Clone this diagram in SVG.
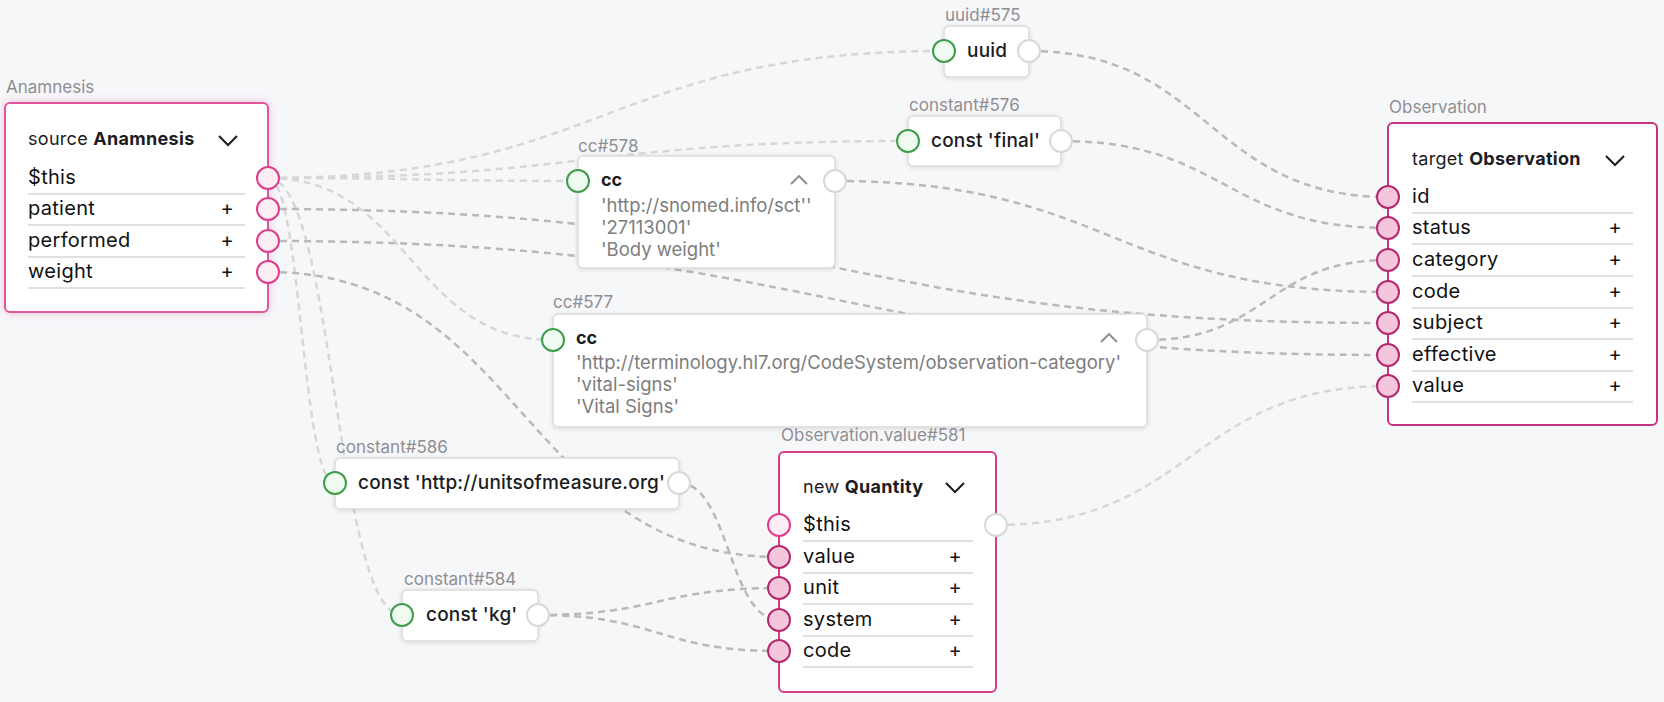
<svg xmlns="http://www.w3.org/2000/svg" width="1664" height="702" viewBox="0 0 1664 702">
<defs>
<style>
.bg{fill:#f6f7f9}
.lbl{font-family:Inter,"Liberation Sans",sans-serif;font-size:17px;fill:#8e8e93}
.hdr{font-family:Inter,"Liberation Sans",sans-serif;font-size:18px;letter-spacing:0.3px;fill:#1c1c1e}
.b{font-weight:700}
.row{font-family:Inter,"Liberation Sans",sans-serif;font-size:20px;letter-spacing:0.3px;fill:#111}
.plus{font-family:Inter,"Liberation Sans",sans-serif;font-size:20px;fill:#111;text-anchor:middle}
.sep{stroke:#d6d6d6;stroke-width:1.5}
.cst{font-family:Inter,"Liberation Sans",sans-serif;font-size:19px;letter-spacing:0.2px;font-weight:500;fill:#1c1c1e}
.cct{font-family:Inter,"Liberation Sans",sans-serif;font-size:18px;font-weight:700;fill:#1c1c1e}
.ccv{font-family:Inter,"Liberation Sans",sans-serif;font-size:18.5px;fill:#7d7d7d}
.box{fill:#fff;stroke:#dcdcdc;stroke-width:1.5}
.pbox{fill:#fff;stroke-width:2}
.pin{fill:#effaf0;stroke:#3f9c49;stroke-width:2}
.pout{fill:#fff;stroke:#d8d8d8;stroke-width:2}
.pk{fill:#f4c6dc;stroke:#b5276f;stroke-width:2}
.pkl{fill:#fcedf5;stroke:#dd3d8c;stroke-width:2}
.chev{fill:none;stroke:#1c1c1e;stroke-width:2}
.chevu{fill:none;stroke:#8a8a8a;stroke-width:1.8}
.e{fill:none;stroke-width:2.5;stroke-dasharray:7 5}
.lt{stroke:#d7d7d7}
.dk{stroke:#b9b9b9}
</style>
<filter id="sh" x="-10%" y="-20%" width="120%" height="150%">
<feDropShadow dx="0" dy="1" stdDeviation="2" flood-color="#000" flood-opacity="0.12"/>
</filter>
<filter id="glow" x="-10%" y="-10%" width="120%" height="120%">
<feDropShadow dx="0" dy="0" stdDeviation="4" flood-color="#e0529a" flood-opacity="0.35"/>
</filter>
</defs>
<rect class="bg" x="0" y="0" width="1664" height="702"/>

<g id="connectors">
<path class="e lt" d="M268,178 C606,178 606,51 944,51"/>
<path class="e lt" d="M268,178 C588,178 588,141 908,141"/>
<path class="e lt" d="M268,178 C423,178 423,181 578,181"/>
<path class="e lt" d="M268,178 C410.5,178 410.5,340 553,340"/>
<path class="e lt" d="M268,178 C301.5,178 301.5,483 335,483"/>
<path class="e lt" d="M268,178 C335,178 335,615 402,615"/>
<path class="e lt" d="M996,525 C1192,525 1192,386 1388,386"/>
<path class="e dk" d="M268,209 C828,209 828,323 1388,323"/>
<path class="e dk" d="M268,241 C828,241 828,355 1388,355"/>
<path class="e dk" d="M268,272 C523.5,272 523.5,557 779,557"/>
<path class="e dk" d="M1029,51 C1208.5,51 1208.5,197 1388,197"/>
<path class="e dk" d="M1061,141 C1224.5,141 1224.5,228 1388,228"/>
<path class="e dk" d="M835,181 C1111.5,181 1111.5,292 1388,292"/>
<path class="e dk" d="M1147,340 C1267.5,340 1267.5,260 1388,260"/>
<path class="e dk" d="M679,483 C729,483 729,620 779,620"/>
<path class="e dk" d="M538,615 C658.5,615 658.5,588 779,588"/>
<path class="e dk" d="M538,615 C658.5,615 658.5,651 779,651"/>
</g>

<g id="anamnesis">
<text class="lbl" x="6" y="93">Anamnesis</text>
<rect class="pbox" x="5" y="103" width="263" height="209" rx="5" stroke="#e0579c" filter="url(#glow)"/>
<text class="hdr" x="28" y="145">source <tspan class="b">Anamnesis</tspan></text>
<path class="chev" d="M219,136 L228,145 L237,136"/>
<text class="row" x="28" y="184">$this</text>
<line class="sep" x1="28" y1="194" x2="245" y2="194"/>
<text class="row" x="28" y="215">patient</text>
<text class="plus" x="227" y="215">+</text>
<line class="sep" x1="28" y1="225" x2="245" y2="225"/>
<text class="row" x="28" y="247">performed</text>
<text class="plus" x="227" y="247">+</text>
<line class="sep" x1="28" y1="257" x2="245" y2="257"/>
<text class="row" x="28" y="278">weight</text>
<text class="plus" x="227" y="278">+</text>
<line class="sep" x1="28" y1="288" x2="245" y2="288"/>
<circle class="pkl" cx="268" cy="178" r="11"/>
<circle class="pkl" cx="268" cy="209" r="11"/>
<circle class="pkl" cx="268" cy="241" r="11"/>
<circle class="pkl" cx="268" cy="272" r="11"/>
</g>

<g id="uuid575">
<text class="lbl" x="945" y="21">uuid#575</text>
<rect class="box" x="944" y="26" width="85" height="51" rx="5" filter="url(#sh)"/>
<text class="cst" x="967" y="57">uuid</text>
<circle class="pin" cx="944" cy="51" r="11"/>
<circle class="pout" cx="1029" cy="51" r="11"/>
</g>

<g id="constant576">
<text class="lbl" x="909" y="111">constant#576</text>
<rect class="box" x="908" y="116" width="153" height="50" rx="5" filter="url(#sh)"/>
<text class="cst" x="931" y="147">const 'final'</text>
<circle class="pin" cx="908" cy="141" r="11"/>
<circle class="pout" cx="1061" cy="141" r="11"/>
</g>

<g id="cc578">
<text class="lbl" x="578" y="152">cc#578</text>
<rect class="box" x="578" y="156" width="257" height="112" rx="5" filter="url(#sh)"/>
<text class="cct" x="601" y="186">cc</text>
<path class="chevu" d="M791,184 L799,176 L807,184"/>
<text class="ccv" x="601" y="212">'http://snomed.info/sct''</text>
<text class="ccv" x="601" y="234">'27113001'</text>
<text class="ccv" x="601" y="256">'Body weight'</text>
<circle class="pin" cx="578" cy="181" r="11"/>
<circle class="pout" cx="835" cy="181" r="11"/>
</g>

<g id="cc577">
<text class="lbl" x="553" y="308">cc#577</text>
<rect class="box" x="553" y="314" width="594" height="113" rx="5" filter="url(#sh)"/>
<text class="cct" x="576" y="344">cc</text>
<path class="chevu" d="M1101,342 L1109,334 L1117,342"/>
<text class="ccv" x="576" y="369">'http://terminology.hl7.org/CodeSystem/observation-category'</text>
<text class="ccv" x="576" y="391">'vital-signs'</text>
<text class="ccv" x="576" y="413">'Vital Signs'</text>
<circle class="pin" cx="553" cy="340" r="11"/>
<circle class="pout" cx="1147" cy="340" r="11"/>
</g>

<g id="observation">
<text class="lbl" x="1389" y="113">Observation</text>
<rect class="pbox" x="1388" y="123" width="269" height="302" rx="5" stroke="#c8337f"/>
<text class="hdr" x="1412" y="165">target <tspan class="b">Observation</tspan></text>
<path class="chev" d="M1606,156 L1615,165 L1624,156"/>
<text class="row" x="1412" y="203">id</text>
<line class="sep" x1="1412" y1="213" x2="1633" y2="213"/>
<text class="row" x="1412" y="234">status</text>
<text class="plus" x="1615" y="234">+</text>
<line class="sep" x1="1412" y1="244" x2="1633" y2="244"/>
<text class="row" x="1412" y="266">category</text>
<text class="plus" x="1615" y="266">+</text>
<line class="sep" x1="1412" y1="276" x2="1633" y2="276"/>
<text class="row" x="1412" y="298">code</text>
<text class="plus" x="1615" y="298">+</text>
<line class="sep" x1="1412" y1="308" x2="1633" y2="308"/>
<text class="row" x="1412" y="329">subject</text>
<text class="plus" x="1615" y="329">+</text>
<line class="sep" x1="1412" y1="339" x2="1633" y2="339"/>
<text class="row" x="1412" y="361">effective</text>
<text class="plus" x="1615" y="361">+</text>
<line class="sep" x1="1412" y1="371" x2="1633" y2="371"/>
<text class="row" x="1412" y="392">value</text>
<text class="plus" x="1615" y="392">+</text>
<line class="sep" x1="1412" y1="402" x2="1633" y2="402"/>
<circle class="pk" cx="1388" cy="197" r="11"/>
<circle class="pk" cx="1388" cy="228" r="11"/>
<circle class="pk" cx="1388" cy="260" r="11"/>
<circle class="pk" cx="1388" cy="292" r="11"/>
<circle class="pk" cx="1388" cy="323" r="11"/>
<circle class="pk" cx="1388" cy="355" r="11"/>
<circle class="pk" cx="1388" cy="386" r="11"/>
</g>

<g id="constant586">
<text class="lbl" x="336" y="453">constant#586</text>
<rect class="box" x="335" y="458" width="344" height="51" rx="5" filter="url(#sh)"/>
<text class="cst" x="358" y="489">const 'http://unitsofmeasure.org'</text>
<circle class="pin" cx="335" cy="483" r="11"/>
<circle class="pout" cx="679" cy="483" r="11"/>
</g>

<g id="constant584">
<text class="lbl" x="404" y="585">constant#584</text>
<rect class="box" x="402" y="590" width="136" height="51" rx="5" filter="url(#sh)"/>
<text class="cst" x="426" y="621">const 'kg'</text>
<circle class="pin" cx="402" cy="615" r="11"/>
<circle class="pout" cx="538" cy="615" r="11"/>
</g>

<g id="quantity581">
<text class="lbl" x="781" y="441">Observation.value#581</text>
<rect class="pbox" x="779" y="452" width="217" height="240" rx="5" stroke="#d43b8a"/>
<text class="hdr" x="803" y="493">new <tspan class="b">Quantity</tspan></text>
<path class="chev" d="M946,483 L955,492 L964,483"/>
<text class="row" x="803" y="531">$this</text>
<line class="sep" x1="803" y1="541" x2="973" y2="541"/>
<text class="row" x="803" y="563">value</text>
<text class="plus" x="955" y="563">+</text>
<line class="sep" x1="803" y1="573" x2="973" y2="573"/>
<text class="row" x="803" y="594">unit</text>
<text class="plus" x="955" y="594">+</text>
<line class="sep" x1="803" y1="604" x2="973" y2="604"/>
<text class="row" x="803" y="626">system</text>
<text class="plus" x="955" y="626">+</text>
<line class="sep" x1="803" y1="636" x2="973" y2="636"/>
<text class="row" x="803" y="657">code</text>
<text class="plus" x="955" y="657">+</text>
<line class="sep" x1="803" y1="667" x2="973" y2="667"/>
<circle class="pkl" cx="779" cy="525" r="11"/>
<circle class="pk" cx="779" cy="557" r="11"/>
<circle class="pk" cx="779" cy="588" r="11"/>
<circle class="pk" cx="779" cy="620" r="11"/>
<circle class="pk" cx="779" cy="651" r="11"/>
<circle class="pout" cx="996" cy="525" r="11"/>
</g>
</svg>
